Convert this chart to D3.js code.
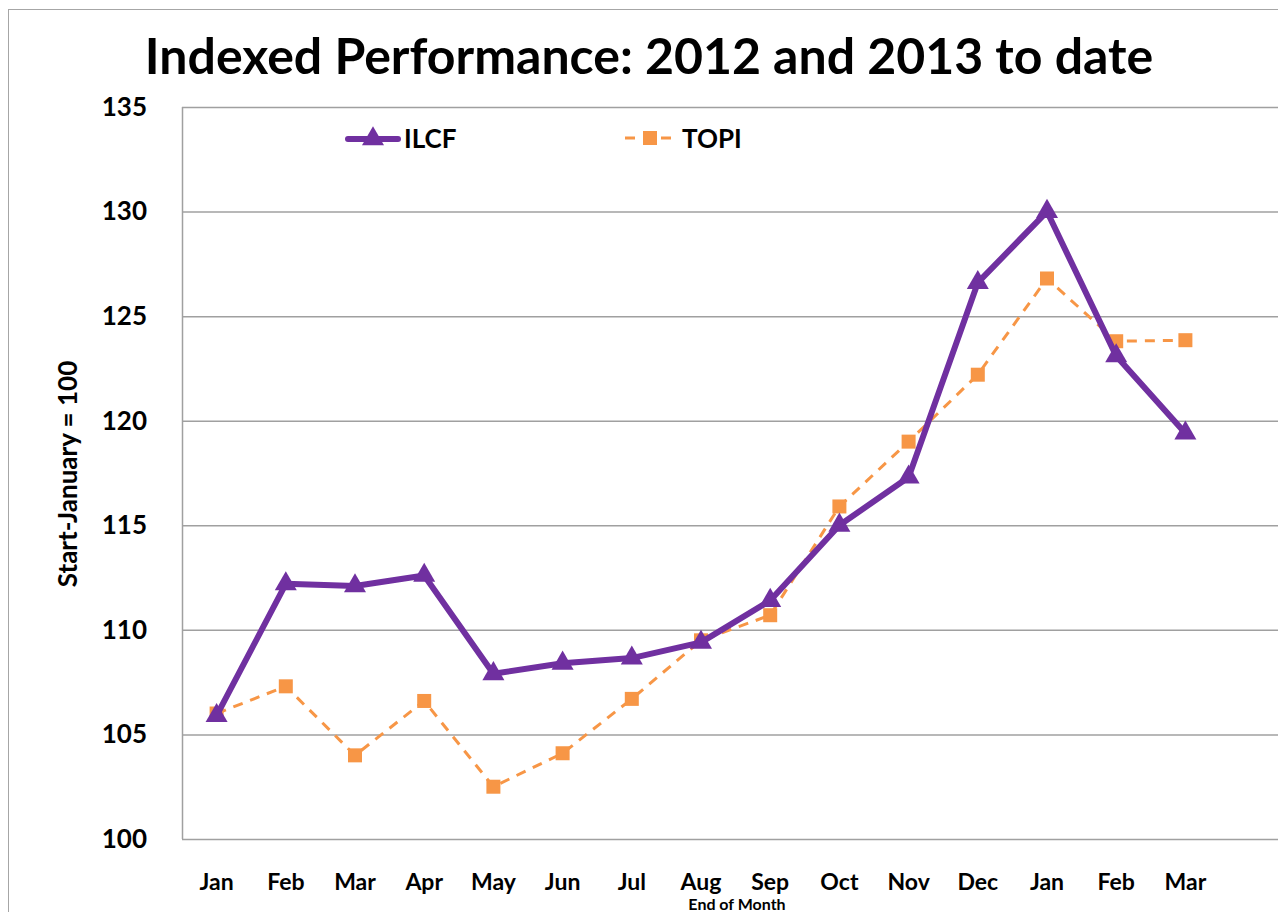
<!DOCTYPE html>
<html><head><meta charset="utf-8">
<script src="https://cdn.jsdelivr.net/npm/d3@7"></script>
<style>body{margin:0;background:#fff;}svg{display:block;font-family:Lato,"Open Sans",sans-serif;}</style>
</head><body>
<svg id="chart" width="1278" height="912"></svg>
<script>
const months = ["Jan","Feb","Mar","Apr","May","Jun","Jul","Aug","Sep","Oct","Nov","Dec","Jan","Feb","Mar"];
const ilcf = [105.9,112.2,112.1,112.6,107.9,108.4,108.65,109.4,111.4,115.0,117.3,126.6,130.0,123.1,119.4];
const topi = [106.0,107.3,104.0,106.6,102.5,104.1,106.7,109.5,110.7,115.9,119.0,122.2,126.8,123.8,123.85];
const yTicks = [100,105,110,115,120,125,130,135];
const seriesNames = ["ILCF","TOPI"];

(function(){
const svg = d3.select("#chart");
const pLeft = 182, pTop = 107, pBottom = 839, gridRight = 1278;
const x = d3.scaleBand().domain(d3.range(months.length)).range([pLeft, pLeft + 69.2*15]);
const y = d3.scaleLinear().domain([100,135]).range([pBottom, pTop]);

// outer frame
svg.append("rect").attr("x",8.5).attr("y",9.5).attr("width",1300).attr("height",1000)
  .attr("fill","none").attr("stroke","#a6a6a6").attr("stroke-width",1);

// title
svg.append("text").attr("x",649).attr("y",74).attr("text-anchor","middle")
  .attr("font-size",50).attr("font-weight","bold").text("Indexed Performance: 2012 and 2013 to date");

// gridlines
svg.append("g").selectAll("line").data(yTicks).join("line")
  .attr("x1",pLeft).attr("x2",gridRight).attr("y1",d=>y(d)+0.5).attr("y2",d=>y(d)+0.5)
  .attr("stroke","#a0a0a0").attr("stroke-width",1.5);
svg.append("line").attr("x1",pLeft+0.5).attr("x2",pLeft+0.5).attr("y1",pTop).attr("y2",pBottom)
  .attr("stroke","#a0a0a0").attr("stroke-width",1.5);

// y axis labels
const yAxis = d3.axisLeft(y).tickValues(yTicks).tickSize(0).tickPadding(35);
const gy = svg.append("g").attr("transform",`translate(${pLeft},0)`).call(yAxis);
gy.select(".domain").remove();
gy.selectAll("text").attr("font-size",26).attr("font-weight","bold").attr("fill","#000")
  .attr("font-family","Lato,sans-serif");

// x axis labels
const xAxis = d3.axisBottom(x).tickFormat(i=>months[i]).tickSize(0).tickPadding(35);
const gx = svg.append("g").attr("transform",`translate(0,${pBottom})`).call(xAxis);
gx.select(".domain").remove();
gx.selectAll("text").attr("font-size",23).attr("font-weight","bold").attr("fill","#000")
  .attr("font-family","Lato,sans-serif");

svg.append("text").attr("x",737).attr("y",910).attr("text-anchor","middle")
  .attr("font-size",16).attr("font-weight","bold").text("End of Month");

svg.append("text").attr("transform","translate(77,474) rotate(-90)").attr("text-anchor","middle")
  .attr("font-size",26).attr("font-weight","bold").text("Start-January = 100");

const cx = i => x(i) + x.bandwidth()/2;
const line = d3.line().x((d,i)=>cx(i)).y(d=>y(d));

// TOPI
svg.append("path").datum(topi).attr("d",line).attr("fill","none")
  .attr("stroke","#f79646").attr("stroke-width",3).attr("stroke-dasharray","10,8");
svg.append("g").selectAll("rect").data(topi).join("rect")
  .attr("x",(d,i)=>cx(i)-7).attr("y",d=>y(d)-7).attr("width",14).attr("height",14).attr("fill","#f79646");

// ILCF
svg.append("path").datum(ilcf).attr("d",line).attr("fill","none")
  .attr("stroke","#7030a0").attr("stroke-width",6).attr("stroke-linejoin","round");
const tri = d3.symbol().type(d3.symbolTriangle).size(210);
svg.append("g").selectAll("path").data(ilcf).join("path")
  .attr("d",tri).attr("transform",(d,i)=>`translate(${cx(i)},${y(d)})`).attr("fill","#7030a0");

// legend
const lg = svg.append("g");
lg.append("line").attr("x1",348).attr("x2",398).attr("y1",139).attr("y2",139)
  .attr("stroke","#7030a0").attr("stroke-width",6).attr("stroke-linecap","round");
lg.append("path").attr("d",tri).attr("transform","translate(373,139)").attr("fill","#7030a0");
lg.append("text").attr("x",404).attr("y",148).attr("font-size",26).attr("font-weight","bold").text(seriesNames[0]);
lg.append("line").attr("x1",625).attr("x2",677).attr("y1",138).attr("y2",138)
  .attr("stroke","#f79646").attr("stroke-width",3).attr("stroke-dasharray","10,8");
lg.append("rect").attr("x",643).attr("y",131).attr("width",14).attr("height",14).attr("fill","#f79646");
lg.append("text").attr("x",682).attr("y",148).attr("font-size",26).attr("font-weight","bold").text(seriesNames[1]);
})();
</script>
</body></html>
